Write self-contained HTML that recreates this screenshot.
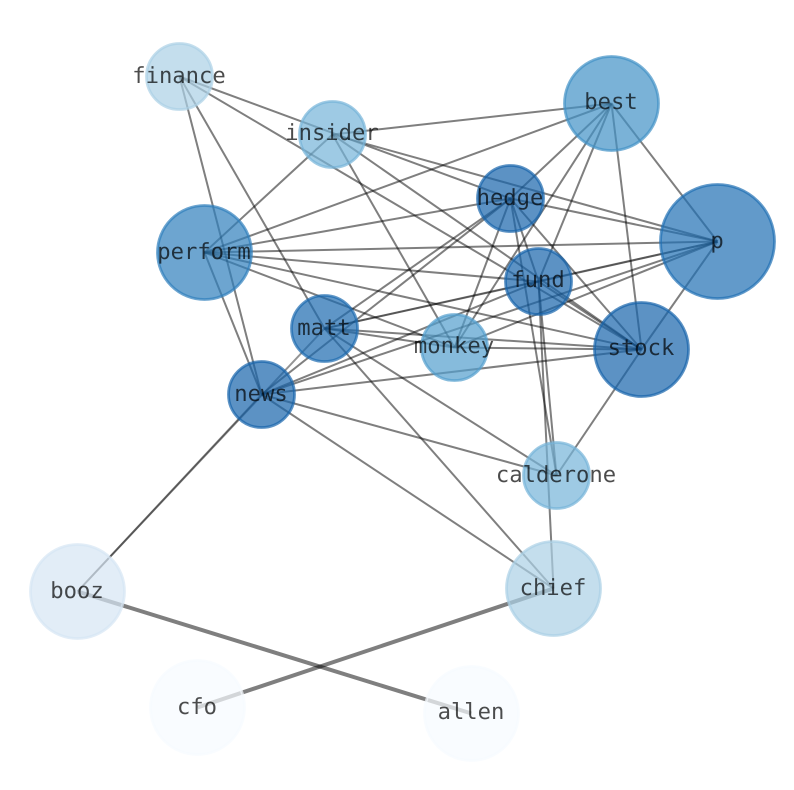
<!DOCTYPE html>
<html><head><meta charset="utf-8"><style>
html,body{margin:0;padding:0;background:#fff;width:794px;height:790px;overflow:hidden}
svg{display:block}
text{font-family:"DejaVu Sans Mono",monospace;font-size:22.2px;fill:#000;fill-opacity:.7;text-anchor:middle;text-rendering:geometricPrecision}
</style></head><body>
<svg width="794" height="790" viewBox="0 0 794 790" xmlns="http://www.w3.org/2000/svg">
<g transform="translate(.5 .5)">
<g stroke="#000" stroke-opacity=".5" stroke-width="2" fill="none">
<path d="M179 76L510 198"/>
<path d="M179 76L641 349"/>
<path d="M179 76L261 394"/>
<path d="M179 76L324 328"/>
<path d="M332 134L611 103"/>
<path d="M332 134L717 241"/>
<path d="M332 134L641 349"/>
<path d="M332 134L454 347"/>
<path d="M332 134L204 252"/>
<path d="M204 252L611 103"/>
<path d="M204 252L510 198"/>
<path d="M204 252L717 241"/>
<path d="M204 252L538 281"/>
<path d="M204 252L641 349"/>
<path d="M204 252L454 347"/>
<path d="M204 252L261 394"/>
<path d="M611 103L510 198"/>
<path d="M611 103L454 347"/>
<path d="M611 103L538 281"/>
<path d="M611 103L641 349"/>
<path d="M611 103L717 241"/>
<path d="M510 198L717 241"/>
<path d="M510 198L538 281"/>
<path d="M510 198L641 349"/>
<path d="M510 198L454 347"/>
<path d="M510 198L324 328"/>
<path d="M510 198L261 394"/>
<path d="M510 198L556 475"/>
<path d="M538 281L261 394"/>
<path d="M538 281L641 349"/>
<path d="M538 281L556 475"/>
<path d="M538 281L553 588"/>
<path d="M717 241L261 394"/>
<path d="M717 241L454 347"/>
<path d="M717 241L641 349"/>
<path d="M324 328L454 347"/>
<path d="M324 328L641 349"/>
<path d="M324 328L556 475"/>
<path d="M324 328L553 588"/>
<path d="M454 347L641 349"/>
<path d="M261 394L641 349"/>
<path d="M261 394L556 475"/>
<path d="M261 394L553 588"/>
<path d="M641 349L556 475"/>
<path d="M538 281L717 241" stroke-opacity=".42"/>
<path d="M538 281L324 328" stroke-opacity=".42"/>
<path d="M717 241L324 328" stroke-opacity=".42"/>
<path d="M77 591L261 394" stroke-opacity=".42"/>
<path d="M77 591L324 328" stroke-opacity=".42"/>
<path d="M77 591L471 713" stroke-width="4"/>
<path d="M197 707L553 588" stroke-width="4"/>
</g>
<g fill-opacity=".7" stroke-opacity=".7" stroke-width="2.8">
<circle cx="179" cy="76" r="33" fill="#abd0e6" stroke="#abd0e6"/>
<circle cx="332" cy="134" r="33" fill="#75b4d8" stroke="#75b4d8"/>
<circle cx="611" cy="103" r="47" fill="#4292c6" stroke="#4292c6"/>
<circle cx="510" cy="198" r="33" fill="#1764ab" stroke="#1764ab"/>
<circle cx="717" cy="241" r="57" fill="#1f6fb4" stroke="#1f6fb4"/>
<circle cx="204" cy="252" r="47" fill="#2f7fbc" stroke="#2f7fbc"/>
<circle cx="538" cy="281" r="33" fill="#1764ab" stroke="#1764ab"/>
<circle cx="324" cy="328" r="33" fill="#1b69af" stroke="#1b69af"/>
<circle cx="454" cy="347" r="33" fill="#539ecd" stroke="#539ecd"/>
<circle cx="641" cy="349" r="47" fill="#1764ab" stroke="#1764ab"/>
<circle cx="261" cy="394" r="33" fill="#1764ab" stroke="#1764ab"/>
<circle cx="556" cy="475" r="33" fill="#75b4d8" stroke="#75b4d8"/>
<circle cx="553" cy="588" r="47" fill="#abd0e6" stroke="#abd0e6"/>
<circle cx="77" cy="591" r="47" fill="#d6e6f4" stroke="#d6e6f4"/>
<circle cx="197" cy="707" r="47" fill="#f7fbff" stroke="#f7fbff"/>
<circle cx="471" cy="713" r="47" fill="#f7fbff" stroke="#f7fbff"/>
</g>
</g>
<text x="179" y="83">finance</text>
<text x="332" y="140">insider</text>
<text x="611" y="109">best</text>
<text x="510" y="205">hedge</text>
<text x="717" y="248">p</text>
<text x="204" y="259">perform</text>
<text x="538" y="287">fund</text>
<text x="324" y="335">matt</text>
<text x="454" y="353">monkey</text>
<text x="641" y="355">stock</text>
<text x="261" y="401">news</text>
<text x="556" y="482">calderone</text>
<text x="553" y="595">chief</text>
<text x="77" y="598">booz</text>
<text x="197" y="714">cfo</text>
<text x="471" y="719">allen</text>
</svg>
</body></html>
